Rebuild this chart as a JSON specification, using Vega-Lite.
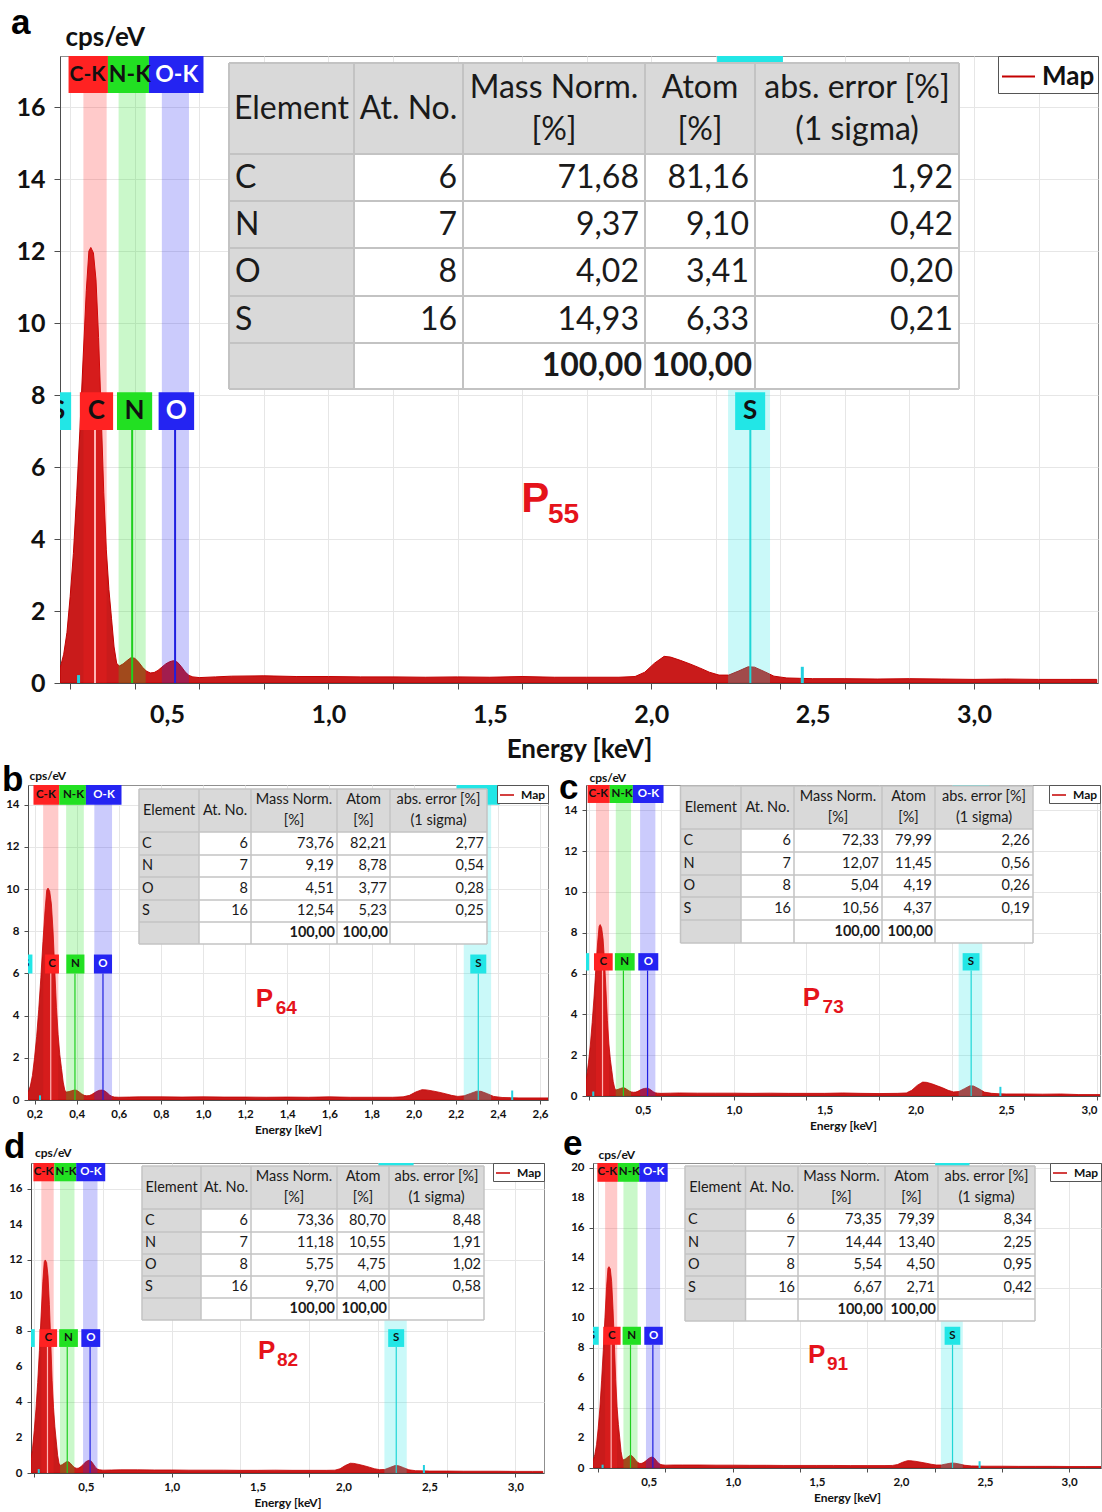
{
"$schema": "https://vega.github.io/schema/vega-lite/v6.json",
"background": "white",
"padding": {"left": 0, "top": 5, "right": 0, "bottom": 0},
"config": {
  "view": {"stroke": "#8f8f8f"},
  "axis": {"labelFont": "Lato", "titleFont": "Lato", "labelFontWeight": "bold", "titleFontWeight": "bold", "labelColor": "#111111", "titleColor": "#111111", "domainColor": "#4d4d4d", "tickColor": "#4d4d4d", "gridColor": "#e6e6e6", "labelOverlap": false, "labelFlush": false, "labelBound": false},
  "axisY": {"titleAngle": 0, "titleAlign": "left", "titleBaseline": "alphabetic"},
  "legend": {"orient": "top-right", "offset": 0, "symbolType": "stroke", "labelFont": "Lato", "labelFontWeight": "bold", "labelColor": "#111111", "strokeColor": "#555555", "fillColor": "white"},
  "title": {"font": "Liberation Sans", "fontWeight": "bold", "color": "#000000", "anchor": "start", "frame": "group", "offset": 0, "baseline": "alphabetic"},
  "text": {"font": "Lato"}
},
"datasets": {
  "sp": [
    {"p":"a","e":0.169,"c":0.42},{"p":"a","e":0.18,"c":0.8},{"p":"a","e":0.19,"c":1.4},{"p":"a","e":0.2,"c":2.4},{"p":"a","e":0.21,"c":3.6},{"p":"a","e":0.22,"c":5.2},{"p":"a","e":0.23,"c":7.0},{"p":"a","e":0.24,"c":9.0},{"p":"a","e":0.25,"c":10.9},{"p":"a","e":0.258,"c":12.0},{"p":"a","e":0.264,"c":12.1},{"p":"a","e":0.272,"c":11.95},{"p":"a","e":0.28,"c":11.2},{"p":"a","e":0.288,"c":9.6},{"p":"a","e":0.296,"c":7.5},{"p":"a","e":0.304,"c":5.3},{"p":"a","e":0.312,"c":3.7},{"p":"a","e":0.32,"c":2.6},{"p":"a","e":0.328,"c":1.8},{"p":"a","e":0.336,"c":1.0},{"p":"a","e":0.344,"c":0.55},
    {"p":"a","e":0.352,"c":0.47},{"p":"a","e":0.364,"c":0.53},{"p":"a","e":0.376,"c":0.62},{"p":"a","e":0.388,"c":0.7},{"p":"a","e":0.4,"c":0.69},{"p":"a","e":0.412,"c":0.58},{"p":"a","e":0.424,"c":0.44},{"p":"a","e":0.436,"c":0.33},{"p":"a","e":0.448,"c":0.28},{"p":"a","e":0.46,"c":0.29},{"p":"a","e":0.472,"c":0.35},{"p":"a","e":0.484,"c":0.44},{"p":"a","e":0.496,"c":0.53},{"p":"a","e":0.508,"c":0.59},{"p":"a","e":0.52,"c":0.62},{"p":"a","e":0.532,"c":0.58},{"p":"a","e":0.544,"c":0.46},{"p":"a","e":0.556,"c":0.31},{"p":"a","e":0.568,"c":0.21},{"p":"a","e":0.58,"c":0.17},{"p":"a","e":0.6,"c":0.15},{"p":"a","e":0.65,"c":0.17},
    {"p":"a","e":0.7,"c":0.19},{"p":"a","e":0.8,"c":0.2},{"p":"a","e":0.9,"c":0.18},{"p":"a","e":1.0,"c":0.18},{"p":"a","e":1.1,"c":0.17},{"p":"a","e":1.2,"c":0.17},{"p":"a","e":1.3,"c":0.16},{"p":"a","e":1.4,"c":0.17},{"p":"a","e":1.5,"c":0.16},{"p":"a","e":1.6,"c":0.18},{"p":"a","e":1.7,"c":0.16},{"p":"a","e":1.8,"c":0.16},{"p":"a","e":1.9,"c":0.16},
    {"p":"a","e":1.95,"c":0.18},{"p":"a","e":1.98,"c":0.3},{"p":"a","e":2.01,"c":0.55},{"p":"a","e":2.04,"c":0.74},{"p":"a","e":2.06,"c":0.72},{"p":"a","e":2.09,"c":0.63},{"p":"a","e":2.12,"c":0.53},{"p":"a","e":2.15,"c":0.42},{"p":"a","e":2.18,"c":0.3},{"p":"a","e":2.21,"c":0.22},{"p":"a","e":2.24,"c":0.22},{"p":"a","e":2.27,"c":0.33},{"p":"a","e":2.3,"c":0.45},{"p":"a","e":2.32,"c":0.44},{"p":"a","e":2.35,"c":0.32},{"p":"a","e":2.38,"c":0.19},{"p":"a","e":2.42,"c":0.14},{"p":"a","e":2.46,"c":0.13},
    {"p":"a","e":2.5,"c":0.12},{"p":"a","e":2.6,"c":0.12},{"p":"a","e":2.7,"c":0.11},{"p":"a","e":2.8,"c":0.12},{"p":"a","e":2.9,"c":0.11},{"p":"a","e":3.0,"c":0.1},{"p":"a","e":3.1,"c":0.11},{"p":"a","e":3.2,"c":0.1},{"p":"a","e":3.3,"c":0.1},{"p":"a","e":3.38,"c":0.1},

    {"p":"b","e":0.169,"c":0.35},{"p":"b","e":0.18,"c":0.66},{"p":"b","e":0.19,"c":1.16},{"p":"b","e":0.2,"c":2.0},{"p":"b","e":0.21,"c":3.0},{"p":"b","e":0.22,"c":4.3},{"p":"b","e":0.23,"c":5.8},{"p":"b","e":0.24,"c":7.5},{"p":"b","e":0.25,"c":9.0},{"p":"b","e":0.258,"c":9.95},{"p":"b","e":0.264,"c":10.05},{"p":"b","e":0.272,"c":9.9},{"p":"b","e":0.28,"c":9.3},{"p":"b","e":0.288,"c":8.0},{"p":"b","e":0.296,"c":6.2},{"p":"b","e":0.304,"c":4.4},{"p":"b","e":0.312,"c":3.1},{"p":"b","e":0.32,"c":2.15},{"p":"b","e":0.328,"c":1.5},{"p":"b","e":0.336,"c":0.85},{"p":"b","e":0.344,"c":0.45},
    {"p":"b","e":0.352,"c":0.38},{"p":"b","e":0.364,"c":0.4},{"p":"b","e":0.376,"c":0.44},{"p":"b","e":0.388,"c":0.47},{"p":"b","e":0.4,"c":0.46},{"p":"b","e":0.412,"c":0.38},{"p":"b","e":0.424,"c":0.29},{"p":"b","e":0.436,"c":0.22},{"p":"b","e":0.448,"c":0.2},{"p":"b","e":0.46,"c":0.21},{"p":"b","e":0.472,"c":0.26},{"p":"b","e":0.484,"c":0.34},{"p":"b","e":0.496,"c":0.41},{"p":"b","e":0.508,"c":0.46},{"p":"b","e":0.52,"c":0.47},{"p":"b","e":0.532,"c":0.44},{"p":"b","e":0.544,"c":0.35},{"p":"b","e":0.556,"c":0.24},{"p":"b","e":0.568,"c":0.17},{"p":"b","e":0.58,"c":0.14},{"p":"b","e":0.6,"c":0.13},{"p":"b","e":0.65,"c":0.14},
    {"p":"b","e":0.7,"c":0.15},{"p":"b","e":0.8,"c":0.15},{"p":"b","e":0.9,"c":0.14},{"p":"b","e":1.0,"c":0.15},{"p":"b","e":1.1,"c":0.14},{"p":"b","e":1.2,"c":0.14},{"p":"b","e":1.3,"c":0.13},{"p":"b","e":1.4,"c":0.14},{"p":"b","e":1.5,"c":0.13},{"p":"b","e":1.6,"c":0.15},{"p":"b","e":1.7,"c":0.13},{"p":"b","e":1.8,"c":0.13},{"p":"b","e":1.9,"c":0.13},
    {"p":"b","e":1.95,"c":0.15},{"p":"b","e":1.98,"c":0.22},{"p":"b","e":2.01,"c":0.38},{"p":"b","e":2.04,"c":0.49},{"p":"b","e":2.06,"c":0.48},{"p":"b","e":2.09,"c":0.43},{"p":"b","e":2.12,"c":0.37},{"p":"b","e":2.15,"c":0.3},{"p":"b","e":2.18,"c":0.22},{"p":"b","e":2.21,"c":0.17},{"p":"b","e":2.24,"c":0.2},{"p":"b","e":2.27,"c":0.31},{"p":"b","e":2.3,"c":0.42},{"p":"b","e":2.32,"c":0.41},{"p":"b","e":2.35,"c":0.3},{"p":"b","e":2.38,"c":0.17},{"p":"b","e":2.42,"c":0.12},{"p":"b","e":2.46,"c":0.11},
    {"p":"b","e":2.5,"c":0.1},{"p":"b","e":2.6,"c":0.1},{"p":"b","e":2.638,"c":0.1},

    {"p":"c","e":0.186,"c":0.8},{"p":"c","e":0.19,"c":0.97},{"p":"c","e":0.2,"c":1.66},{"p":"c","e":0.21,"c":2.5},{"p":"c","e":0.22,"c":3.6},{"p":"c","e":0.23,"c":4.8},{"p":"c","e":0.24,"c":6.2},{"p":"c","e":0.25,"c":7.5},{"p":"c","e":0.258,"c":8.3},{"p":"c","e":0.264,"c":8.4},{"p":"c","e":0.272,"c":8.25},{"p":"c","e":0.28,"c":7.7},{"p":"c","e":0.288,"c":6.6},{"p":"c","e":0.296,"c":5.2},{"p":"c","e":0.304,"c":3.7},{"p":"c","e":0.312,"c":2.55},{"p":"c","e":0.32,"c":1.8},{"p":"c","e":0.328,"c":1.25},{"p":"c","e":0.336,"c":0.7},{"p":"c","e":0.344,"c":0.38},
    {"p":"c","e":0.352,"c":0.3},{"p":"c","e":0.364,"c":0.33},{"p":"c","e":0.376,"c":0.37},{"p":"c","e":0.388,"c":0.4},{"p":"c","e":0.4,"c":0.39},{"p":"c","e":0.412,"c":0.32},{"p":"c","e":0.424,"c":0.25},{"p":"c","e":0.436,"c":0.2},{"p":"c","e":0.448,"c":0.18},{"p":"c","e":0.46,"c":0.19},{"p":"c","e":0.472,"c":0.23},{"p":"c","e":0.484,"c":0.29},{"p":"c","e":0.496,"c":0.34},{"p":"c","e":0.508,"c":0.37},{"p":"c","e":0.52,"c":0.38},{"p":"c","e":0.532,"c":0.36},{"p":"c","e":0.544,"c":0.29},{"p":"c","e":0.556,"c":0.21},{"p":"c","e":0.568,"c":0.16},{"p":"c","e":0.58,"c":0.14},{"p":"c","e":0.6,"c":0.13},{"p":"c","e":0.65,"c":0.14},
    {"p":"c","e":0.7,"c":0.15},{"p":"c","e":0.8,"c":0.14},{"p":"c","e":0.9,"c":0.14},{"p":"c","e":1.0,"c":0.14},{"p":"c","e":1.1,"c":0.13},{"p":"c","e":1.2,"c":0.14},{"p":"c","e":1.3,"c":0.13},{"p":"c","e":1.4,"c":0.13},{"p":"c","e":1.5,"c":0.13},{"p":"c","e":1.6,"c":0.15},{"p":"c","e":1.7,"c":0.13},{"p":"c","e":1.8,"c":0.12},{"p":"c","e":1.9,"c":0.13},
    {"p":"c","e":1.95,"c":0.15},{"p":"c","e":1.98,"c":0.28},{"p":"c","e":2.01,"c":0.52},{"p":"c","e":2.04,"c":0.68},{"p":"c","e":2.06,"c":0.67},{"p":"c","e":2.09,"c":0.6},{"p":"c","e":2.12,"c":0.5},{"p":"c","e":2.15,"c":0.4},{"p":"c","e":2.18,"c":0.28},{"p":"c","e":2.21,"c":0.2},{"p":"c","e":2.24,"c":0.22},{"p":"c","e":2.27,"c":0.36},{"p":"c","e":2.3,"c":0.5},{"p":"c","e":2.32,"c":0.49},{"p":"c","e":2.35,"c":0.35},{"p":"c","e":2.38,"c":0.19},{"p":"c","e":2.42,"c":0.13},{"p":"c","e":2.46,"c":0.11},
    {"p":"c","e":2.5,"c":0.1},{"p":"c","e":2.6,"c":0.1},{"p":"c","e":2.7,"c":0.09},{"p":"c","e":2.8,"c":0.1},{"p":"c","e":2.9,"c":0.07},{"p":"c","e":3.0,"c":0.07},{"p":"c","e":3.016,"c":0.07},

    {"p":"d","e":0.181,"c":0.82},{"p":"d","e":0.19,"c":1.4},{"p":"d","e":0.2,"c":2.4},{"p":"d","e":0.21,"c":3.6},{"p":"d","e":0.22,"c":5.1},{"p":"d","e":0.23,"c":6.9},{"p":"d","e":0.24,"c":8.9},{"p":"d","e":0.25,"c":10.8},{"p":"d","e":0.258,"c":11.9},{"p":"d","e":0.264,"c":12.0},{"p":"d","e":0.272,"c":11.85},{"p":"d","e":0.28,"c":11.1},{"p":"d","e":0.288,"c":9.5},{"p":"d","e":0.296,"c":7.4},{"p":"d","e":0.304,"c":5.2},{"p":"d","e":0.312,"c":3.7},{"p":"d","e":0.32,"c":2.6},{"p":"d","e":0.328,"c":1.8},{"p":"d","e":0.336,"c":1.0},{"p":"d","e":0.344,"c":0.55},
    {"p":"d","e":0.352,"c":0.42},{"p":"d","e":0.364,"c":0.48},{"p":"d","e":0.376,"c":0.56},{"p":"d","e":0.388,"c":0.64},{"p":"d","e":0.4,"c":0.63},{"p":"d","e":0.412,"c":0.53},{"p":"d","e":0.424,"c":0.4},{"p":"d","e":0.436,"c":0.3},{"p":"d","e":0.448,"c":0.26},{"p":"d","e":0.46,"c":0.28},{"p":"d","e":0.472,"c":0.36},{"p":"d","e":0.484,"c":0.47},{"p":"d","e":0.496,"c":0.6},{"p":"d","e":0.508,"c":0.68},{"p":"d","e":0.52,"c":0.72},{"p":"d","e":0.532,"c":0.66},{"p":"d","e":0.544,"c":0.5},{"p":"d","e":0.556,"c":0.33},{"p":"d","e":0.568,"c":0.22},{"p":"d","e":0.58,"c":0.18},{"p":"d","e":0.6,"c":0.16},{"p":"d","e":0.65,"c":0.17},
    {"p":"d","e":0.7,"c":0.18},{"p":"d","e":0.8,"c":0.18},{"p":"d","e":0.9,"c":0.17},{"p":"d","e":1.0,"c":0.17},{"p":"d","e":1.1,"c":0.16},{"p":"d","e":1.2,"c":0.16},{"p":"d","e":1.3,"c":0.16},{"p":"d","e":1.4,"c":0.15},{"p":"d","e":1.5,"c":0.15},{"p":"d","e":1.6,"c":0.16},{"p":"d","e":1.7,"c":0.15},{"p":"d","e":1.8,"c":0.15},{"p":"d","e":1.9,"c":0.15},
    {"p":"d","e":1.95,"c":0.16},{"p":"d","e":1.98,"c":0.24},{"p":"d","e":2.01,"c":0.42},{"p":"d","e":2.04,"c":0.55},{"p":"d","e":2.06,"c":0.54},{"p":"d","e":2.09,"c":0.48},{"p":"d","e":2.12,"c":0.41},{"p":"d","e":2.15,"c":0.33},{"p":"d","e":2.18,"c":0.24},{"p":"d","e":2.21,"c":0.19},{"p":"d","e":2.24,"c":0.2},{"p":"d","e":2.27,"c":0.31},{"p":"d","e":2.3,"c":0.42},{"p":"d","e":2.32,"c":0.41},{"p":"d","e":2.35,"c":0.3},{"p":"d","e":2.38,"c":0.18},{"p":"d","e":2.42,"c":0.13},{"p":"d","e":2.46,"c":0.12},
    {"p":"d","e":2.5,"c":0.11},{"p":"d","e":2.6,"c":0.11},{"p":"d","e":2.7,"c":0.1},{"p":"d","e":2.8,"c":0.1},{"p":"d","e":2.9,"c":0.1},{"p":"d","e":3.0,"c":0.09},{"p":"d","e":3.1,"c":0.09},{"p":"d","e":3.16,"c":0.09},

    {"p":"e","e":0.169,"c":0.47},{"p":"e","e":0.18,"c":0.9},{"p":"e","e":0.19,"c":1.55},{"p":"e","e":0.2,"c":2.65},{"p":"e","e":0.21,"c":4.0},{"p":"e","e":0.22,"c":5.8},{"p":"e","e":0.23,"c":7.8},{"p":"e","e":0.24,"c":10.0},{"p":"e","e":0.25,"c":12.1},{"p":"e","e":0.258,"c":13.3},{"p":"e","e":0.264,"c":13.4},{"p":"e","e":0.272,"c":13.25},{"p":"e","e":0.28,"c":12.4},{"p":"e","e":0.288,"c":10.6},{"p":"e","e":0.296,"c":8.3},{"p":"e","e":0.304,"c":5.9},{"p":"e","e":0.312,"c":4.1},{"p":"e","e":0.32,"c":2.9},{"p":"e","e":0.328,"c":2.0},{"p":"e","e":0.336,"c":1.1},{"p":"e","e":0.344,"c":0.6},
    {"p":"e","e":0.352,"c":0.55},{"p":"e","e":0.364,"c":0.62},{"p":"e","e":0.376,"c":0.73},{"p":"e","e":0.388,"c":0.83},{"p":"e","e":0.4,"c":0.82},{"p":"e","e":0.412,"c":0.68},{"p":"e","e":0.424,"c":0.5},{"p":"e","e":0.436,"c":0.36},{"p":"e","e":0.448,"c":0.3},{"p":"e","e":0.46,"c":0.31},{"p":"e","e":0.472,"c":0.38},{"p":"e","e":0.484,"c":0.48},{"p":"e","e":0.496,"c":0.6},{"p":"e","e":0.508,"c":0.69},{"p":"e","e":0.52,"c":0.73},{"p":"e","e":0.532,"c":0.68},{"p":"e","e":0.544,"c":0.52},{"p":"e","e":0.556,"c":0.35},{"p":"e","e":0.568,"c":0.25},{"p":"e","e":0.58,"c":0.21},{"p":"e","e":0.6,"c":0.19},{"p":"e","e":0.65,"c":0.2},
    {"p":"e","e":0.7,"c":0.2},{"p":"e","e":0.8,"c":0.2},{"p":"e","e":0.9,"c":0.19},{"p":"e","e":1.0,"c":0.19},{"p":"e","e":1.1,"c":0.18},{"p":"e","e":1.2,"c":0.18},{"p":"e","e":1.3,"c":0.17},{"p":"e","e":1.4,"c":0.17},{"p":"e","e":1.5,"c":0.17},{"p":"e","e":1.6,"c":0.17},{"p":"e","e":1.7,"c":0.16},{"p":"e","e":1.8,"c":0.16},{"p":"e","e":1.9,"c":0.16},
    {"p":"e","e":1.95,"c":0.17},{"p":"e","e":1.98,"c":0.23},{"p":"e","e":2.01,"c":0.38},{"p":"e","e":2.04,"c":0.49},{"p":"e","e":2.06,"c":0.48},{"p":"e","e":2.09,"c":0.44},{"p":"e","e":2.12,"c":0.38},{"p":"e","e":2.15,"c":0.32},{"p":"e","e":2.18,"c":0.25},{"p":"e","e":2.21,"c":0.2},{"p":"e","e":2.24,"c":0.2},{"p":"e","e":2.27,"c":0.27},{"p":"e","e":2.3,"c":0.33},{"p":"e","e":2.32,"c":0.32},{"p":"e","e":2.35,"c":0.26},{"p":"e","e":2.38,"c":0.18},{"p":"e","e":2.42,"c":0.14},{"p":"e","e":2.46,"c":0.13},
    {"p":"e","e":2.5,"c":0.12},{"p":"e","e":2.6,"c":0.12},{"p":"e","e":2.7,"c":0.11},{"p":"e","e":2.8,"c":0.11},{"p":"e","e":2.9,"c":0.11},{"p":"e","e":3.0,"c":0.1},{"p":"e","e":3.1,"c":0.1},{"p":"e","e":3.19,"c":0.1}
  ],
  "el": [
    {"el":"C","lo":0.241,"hi":0.313,"ln":0.277,"klo":0.195,"khi":0.317,"kc":0.254,"k":"C-K"},
    {"el":"N","lo":0.35,"hi":0.434,"ln":0.392,"klo":0.317,"khi":0.444,"kc":0.385,"k":"N-K"},
    {"el":"O","lo":0.484,"hi":0.568,"ln":0.525,"klo":0.444,"khi":0.613,"kc":0.53,"k":"O-K"},
    {"el":"S","lo":2.238,"hi":2.368,"ln":2.307,"klo":2.204,"khi":2.408,"kc":2.306,"k":"S-K"}
  ],
  "lbl": [
    {"g":"L","el":"S","blo":0.12,"bhi":0.203,"ln":0.163},
    {"g":"L","el":"C","blo":0.23,"bhi":0.333,"ln":0.281},
    {"g":"L","el":"N","blo":0.345,"bhi":0.454,"ln":0.399},
    {"g":"L","el":"O","blo":0.474,"bhi":0.584,"ln":0.529},
    {"g":"L","el":"S","blo":2.26,"bhi":2.353,"ln":2.306},
    {"g":"B","el":"S","blo":0.13,"bhi":0.19,"ln":0.16},
    {"g":"B","el":"C","blo":0.25,"bhi":0.316,"ln":0.283},
    {"g":"B","el":"N","blo":0.351,"bhi":0.437,"ln":0.394},
    {"g":"B","el":"O","blo":0.482,"bhi":0.568,"ln":0.525},
    {"g":"B","el":"S","blo":2.269,"bhi":2.345,"ln":2.307}
  ],
  "sum": [{"e":0.226,"h":0.22,"z":0},{"e":2.468,"h":0.45,"z":0}],
  "pl": [{"p":"a","n":"55"},{"p":"b","n":"64"},{"p":"c","n":"73"},{"p":"d","n":"82"},{"p":"e","n":"91"}],
  "th1": [{"t":"Element","cm":0.5},{"t":"At. No.","cm":1.5}],
  "th2": [{"t":["Mass Norm.","[%]"],"cm":2.5},{"t":["Atom","[%]"],"cm":3.5},{"t":["abs. error [%]","(1 sigma)"],"cm":4.5}],
  "tz": [{"el":"C","z":"6","r":1.5},{"el":"N","z":"7","r":2.5},{"el":"O","z":"8","r":3.5},{"el":"S","z":"16","r":4.5}],
  "tt": [{"c":3,"t":"100,00"},{"c":4,"t":"100,00"}],
  "tc": [{"k":0},{"k":1},{"k":2},{"k":3},{"k":4},{"k":5}],
  "tr": [{"k":0},{"k":1},{"k":2},{"k":3},{"k":4},{"k":5},{"k":6}],
  "tn": [
    {"p":"a","r":1.5,"c":3,"t":"71,68"},{"p":"a","r":1.5,"c":4,"t":"81,16"},{"p":"a","r":1.5,"c":5,"t":"1,92"},
    {"p":"a","r":2.5,"c":3,"t":"9,37"},{"p":"a","r":2.5,"c":4,"t":"9,10"},{"p":"a","r":2.5,"c":5,"t":"0,42"},
    {"p":"a","r":3.5,"c":3,"t":"4,02"},{"p":"a","r":3.5,"c":4,"t":"3,41"},{"p":"a","r":3.5,"c":5,"t":"0,20"},
    {"p":"a","r":4.5,"c":3,"t":"14,93"},{"p":"a","r":4.5,"c":4,"t":"6,33"},{"p":"a","r":4.5,"c":5,"t":"0,21"},
    {"p":"b","r":1.5,"c":3,"t":"73,76"},{"p":"b","r":1.5,"c":4,"t":"82,21"},{"p":"b","r":1.5,"c":5,"t":"2,77"},
    {"p":"b","r":2.5,"c":3,"t":"9,19"},{"p":"b","r":2.5,"c":4,"t":"8,78"},{"p":"b","r":2.5,"c":5,"t":"0,54"},
    {"p":"b","r":3.5,"c":3,"t":"4,51"},{"p":"b","r":3.5,"c":4,"t":"3,77"},{"p":"b","r":3.5,"c":5,"t":"0,28"},
    {"p":"b","r":4.5,"c":3,"t":"12,54"},{"p":"b","r":4.5,"c":4,"t":"5,23"},{"p":"b","r":4.5,"c":5,"t":"0,25"},
    {"p":"c","r":1.5,"c":3,"t":"72,33"},{"p":"c","r":1.5,"c":4,"t":"79,99"},{"p":"c","r":1.5,"c":5,"t":"2,26"},
    {"p":"c","r":2.5,"c":3,"t":"12,07"},{"p":"c","r":2.5,"c":4,"t":"11,45"},{"p":"c","r":2.5,"c":5,"t":"0,56"},
    {"p":"c","r":3.5,"c":3,"t":"5,04"},{"p":"c","r":3.5,"c":4,"t":"4,19"},{"p":"c","r":3.5,"c":5,"t":"0,26"},
    {"p":"c","r":4.5,"c":3,"t":"10,56"},{"p":"c","r":4.5,"c":4,"t":"4,37"},{"p":"c","r":4.5,"c":5,"t":"0,19"},
    {"p":"d","r":1.5,"c":3,"t":"73,36"},{"p":"d","r":1.5,"c":4,"t":"80,70"},{"p":"d","r":1.5,"c":5,"t":"8,48"},
    {"p":"d","r":2.5,"c":3,"t":"11,18"},{"p":"d","r":2.5,"c":4,"t":"10,55"},{"p":"d","r":2.5,"c":5,"t":"1,91"},
    {"p":"d","r":3.5,"c":3,"t":"5,75"},{"p":"d","r":3.5,"c":4,"t":"4,75"},{"p":"d","r":3.5,"c":5,"t":"1,02"},
    {"p":"d","r":4.5,"c":3,"t":"9,70"},{"p":"d","r":4.5,"c":4,"t":"4,00"},{"p":"d","r":4.5,"c":5,"t":"0,58"},
    {"p":"e","r":1.5,"c":3,"t":"73,35"},{"p":"e","r":1.5,"c":4,"t":"79,39"},{"p":"e","r":1.5,"c":5,"t":"8,34"},
    {"p":"e","r":2.5,"c":3,"t":"14,44"},{"p":"e","r":2.5,"c":4,"t":"13,40"},{"p":"e","r":2.5,"c":5,"t":"2,25"},
    {"p":"e","r":3.5,"c":3,"t":"5,54"},{"p":"e","r":3.5,"c":4,"t":"4,50"},{"p":"e","r":3.5,"c":5,"t":"0,95"},
    {"p":"e","r":4.5,"c":3,"t":"6,67"},{"p":"e","r":4.5,"c":4,"t":"2,71"},{"p":"e","r":4.5,"c":5,"t":"0,42"}
  ]
},
"resolve": {"scale": {"stroke": "independent"}, "legend": {"stroke": "independent"}},
"spacing": -1,
"vconcat": [
 {"hconcat": [
   {"width": 10, "height": 1, "view": {"stroke": null}, "data": {"values": [{}]}, "mark": {"type": "point", "size": 0, "opacity": 0}, "encoding": {}},
   {"width": 1038, "height": 627,
    "title": {"text": "a", "fontSize": 35, "dx": -49, "dy": 21},
    "resolve": {"scale": {"x": "independent", "y": "independent"}},
    "layer": [
     {"resolve": {"axis": {"x": "independent", "y": "independent"}},
      "layer": [
      {"layer": [
      {"data": {"name": "sp"}, "transform": [{"filter": "datum.p === 'a'"}],
       "mark": {"type": "area", "fill": "#c91b1b", "strokeWidth": 1, "clip": true},
       "encoding": {
        "x": {"field": "e", "type": "quantitative", "scale": {"domain": [0.1685, 3.384], "zero": false, "nice": false},
              "axis": {"orient": "bottom", "title": null, "labels": false, "values": [0.2,0.3,0.4,0.5,0.6,0.7,0.8,0.9,1,1.1,1.2,1.3,1.4,1.5,1.6,1.7,1.8,1.9,2,2.1,2.2,2.3,2.4,2.5,2.6,2.7,2.8,2.9,3,3.1,3.2,3.3], "tickSize": 6}},
        "y": {"field": "c", "type": "quantitative", "scale": {"domain": [0, 17.42], "zero": false, "nice": false},
              "axis": {"orient": "left", "title": null, "labels": false, "values": [0,0.5,1,1.5,2,2.5,3,3.5,4,4.5,5,5.5,6,6.5,7,7.5,8,8.5,9,9.5,10,10.5,11,11.5,12,12.5,13,13.5,14,14.5,15,15.5,16,16.5,17], "tickSize": 6}},
        "stroke": {"datum": "Map", "scale": {"range": ["#c40000"]}, "legend": {"title": null, "symbolType": "stroke", "labelFontSize": 26, "symbolSize": 1089, "symbolStrokeWidth": 2, "padding": 3, "labelOffset": 6}}
       }},
      {"data": {"name": "el"}, "mark": {"type": "rect", "fillOpacity": 0.24, "clip": true},
       "encoding": {"x": {"field": "lo", "type": "quantitative"}, "x2": {"field": "hi"}, "y": {"datum": 0, "type": "quantitative"}, "y2": {"datum": 17.42},
        "fill": {"field": "el", "type": "nominal", "scale": {"domain": ["C","N","O","S"], "range": ["#ff2222","#22e022","#2424f2","#22e6e6"]}, "legend": null}}},
      {"data": {"name": "el"}, "transform": [{"filter": "datum.el === 'C'"}], "mark": {"type": "rect", "clip": true},
       "encoding": {"x": {"field": "klo", "type": "quantitative"}, "x2": {"field": "khi"}, "y": {"datum": 16.39, "type": "quantitative"}, "y2": {"datum": 17.42}, "fill": {"field": "el", "type": "nominal", "legend": null}}},
      {"data": {"name": "el"}, "transform": [{"filter": "datum.el === 'C'"}], "mark": {"type": "text", "fontSize": 21, "fontWeight": "bold", "baseline": "middle", "clip": true},
       "encoding": {"x": {"field": "kc", "type": "quantitative"}, "y": {"datum": 16.9, "type": "quantitative"}, "text": {"field": "k", "type": "nominal"}, "color": {"value": "#111111"}}},
      {"data": {"name": "el"}, "transform": [{"filter": "datum.el !== 'C'"}], "mark": {"type": "rect", "clip": true},
       "encoding": {"x": {"field": "klo", "type": "quantitative"}, "x2": {"field": "khi"}, "y": {"datum": 16.39, "type": "quantitative"}, "y2": {"datum": 17.42}, "fill": {"field": "el", "type": "nominal", "legend": null}}},
      {"data": {"name": "el"}, "transform": [{"filter": "datum.el === 'N' || datum.el === 'O'"}], "mark": {"type": "text", "fontSize": 23, "fontWeight": "bold", "baseline": "middle", "clip": true},
       "encoding": {"x": {"field": "kc", "type": "quantitative"}, "y": {"datum": 16.9, "type": "quantitative"}, "text": {"field": "k", "type": "nominal"}, "color": {"condition": {"test": "datum.el === 'O'", "value": "white"}, "value": "#111111"}}},
      {"data": {"name": "lbl"}, "transform": [{"filter": "datum.g === 'L'"}], "mark": {"type": "rect", "clip": true},
       "encoding": {"x": {"field": "blo", "type": "quantitative"}, "x2": {"field": "bhi"}, "y": {"datum": 7.03, "type": "quantitative"}, "y2": {"datum": 8.08}, "fill": {"field": "el", "type": "nominal", "legend": null}}},
      {"data": {"name": "lbl"}, "transform": [{"filter": "datum.g === 'L'"}], "mark": {"type": "text", "fontSize": 26, "fontWeight": "bold", "baseline": "middle", "clip": true},
       "encoding": {"x": {"field": "ln", "type": "quantitative"}, "y": {"datum": 7.55, "type": "quantitative"}, "text": {"field": "el", "type": "nominal"}, "color": {"condition": {"test": "datum.el === 'O'", "value": "white"}, "value": "#111111"}}},
      {"data": {"name": "el"}, "mark": {"type": "rule", "strokeWidth": 2},
       "encoding": {"x": {"field": "ln", "type": "quantitative"}, "y": {"datum": 0, "type": "quantitative"}, "y2": {"datum": 7.03},
        "color": {"field": "el", "type": "nominal", "scale": {"domain": ["C","N","O","S"], "range": ["#ffb4b4","#1fcf1f","#1f1fe0","#1fd6d6"]}, "legend": null}}},
      {"data": {"name": "sum"}, "mark": {"type": "rule", "strokeWidth": 3, "color": "#22d0e0"},
       "encoding": {"x": {"field": "e", "type": "quantitative"}, "y": {"field": "z", "type": "quantitative"}, "y2": {"field": "h"}}},
      {"data": {"name": "pl"}, "transform": [{"filter": "datum.p === 'a'"}], "mark": {"type": "text", "text": "P", "font": "Liberation Sans", "fontWeight": "bold", "fontSize": 42, "color": "#e5131b", "align": "left", "baseline": "alphabetic"},
       "encoding": {"x": {"datum": 1.597, "type": "quantitative"}, "y": {"datum": 4.75, "type": "quantitative"}}},
      {"data": {"name": "pl"}, "transform": [{"filter": "datum.p === 'a'"}], "mark": {"type": "text", "font": "Liberation Sans", "fontWeight": "bold", "fontSize": 28, "color": "#e5131b", "align": "left", "baseline": "alphabetic"},
       "encoding": {"x": {"datum": 1.68, "type": "quantitative"}, "y": {"datum": 4.44, "type": "quantitative"}, "text": {"field": "n", "type": "nominal"}}}
      ]},
      {"data": {"name": "pl"}, "transform": [{"filter": "datum.p === 'a'"}], "mark": {"type": "point", "size": 0, "opacity": 0},
       "encoding": {
        "x": {"datum": 1, "type": "quantitative", "axis": {"orient": "bottom", "title": "Energy [keV]", "values": [0.5,1,1.5,2,2.5,3], "labelExpr": "replace(format(datum.value,'.1f'),'.',',')", "ticks": false, "tickSize": 0, "domain": false, "grid": false, "labelFontSize": 25, "labelPadding": 19, "titleFontSize": 26, "titlePadding": 9}},
        "y": {"datum": 1, "type": "quantitative", "axis": {"orient": "left", "title": "cps/eV", "values": [0,2,4,6,8,10,12,14,16], "format": "d", "ticks": false, "tickSize": 0, "domain": false, "grid": false, "labelFontSize": 25, "labelPadding": 15, "titleFontSize": 26, "titleX": 5, "titleY": -11}}
       }}
     ]},
     {"layer": [
      {"data": {"values": [{}]}, "mark": {"type": "rect", "fill": "white"},
       "encoding": {"x": {"datum": 0, "type": "quantitative", "scale": {"domain": [0,1,2,3,4,5], "range": [169,294,403,585,695,899], "zero": false, "nice": false}, "axis": null}, "x2": {"datum": 5},
        "y": {"datum": 0, "type": "quantitative", "scale": {"domain": [0,1,2,3,4,5,6], "range": [7,98,145,192,240,287,333], "zero": false, "nice": false}, "axis": null}, "y2": {"datum": 6}}},
      {"data": {"values": [{}]}, "mark": {"type": "rect", "fill": "#d9d9d9"},
       "encoding": {"x": {"datum": 0, "type": "quantitative", "axis": null}, "x2": {"datum": 5}, "y": {"datum": 0, "type": "quantitative", "axis": null}, "y2": {"datum": 1}}},
      {"data": {"values": [{}]}, "mark": {"type": "rect", "fill": "#d9d9d9"},
       "encoding": {"x": {"datum": 0, "type": "quantitative", "axis": null}, "x2": {"datum": 1}, "y": {"datum": 1, "type": "quantitative", "axis": null}, "y2": {"datum": 6}}},
      {"data": {"name": "tc"}, "mark": {"type": "rule", "color": "#c3c3c3", "strokeWidth": 2},
       "encoding": {"x": {"field": "k", "type": "quantitative", "axis": null}, "y": {"datum": 0, "type": "quantitative", "axis": null}, "y2": {"datum": 6}}},
      {"data": {"name": "tr"}, "mark": {"type": "rule", "color": "#c3c3c3", "strokeWidth": 2},
       "encoding": {"y": {"field": "k", "type": "quantitative", "axis": null}, "x": {"datum": 0, "type": "quantitative", "axis": null}, "x2": {"datum": 5}}},
      {"data": {"name": "th1"}, "mark": {"type": "text", "fontSize": 32, "align": "center", "baseline": "middle", "color": "#1a1a1a"},
       "encoding": {"x": {"field": "cm", "type": "quantitative", "axis": null}, "y": {"datum": 0.5, "type": "quantitative", "axis": null}, "text": {"field": "t", "type": "nominal"}}},
      {"data": {"name": "th2"}, "mark": {"type": "text", "fontSize": 32, "lineHeight": 42, "align": "center", "baseline": "middle", "dy": -21, "color": "#1a1a1a"},
       "encoding": {"x": {"field": "cm", "type": "quantitative", "axis": null}, "y": {"datum": 0.5, "type": "quantitative", "axis": null}, "text": {"field": "t", "type": "nominal"}}},
      {"data": {"name": "tz"}, "mark": {"type": "text", "fontSize": 32, "align": "left", "baseline": "middle", "dx": 6, "color": "#1a1a1a"},
       "encoding": {"x": {"datum": 0, "type": "quantitative", "axis": null}, "y": {"field": "r", "type": "quantitative", "axis": null}, "text": {"field": "el", "type": "nominal"}}},
      {"data": {"name": "tz"}, "mark": {"type": "text", "fontSize": 32, "align": "right", "baseline": "middle", "dx": -6, "color": "#1a1a1a"},
       "encoding": {"x": {"datum": 2, "type": "quantitative", "axis": null}, "y": {"field": "r", "type": "quantitative", "axis": null}, "text": {"field": "z", "type": "nominal"}}},
      {"data": {"name": "tn"}, "transform": [{"filter": "datum.p === 'a'"}], "mark": {"type": "text", "fontSize": 32, "align": "right", "baseline": "middle", "dx": -6, "color": "#1a1a1a"},
       "encoding": {"x": {"field": "c", "type": "quantitative", "axis": null}, "y": {"field": "r", "type": "quantitative", "axis": null}, "text": {"field": "t", "type": "nominal"}}},
      {"data": {"name": "tt"}, "mark": {"type": "text", "fontSize": 32, "fontWeight": "bold", "align": "right", "baseline": "middle", "dx": -3, "color": "#1a1a1a"},
       "encoding": {"x": {"field": "c", "type": "quantitative", "axis": null}, "y": {"datum": 5.5, "type": "quantitative", "axis": null}, "text": {"field": "t", "type": "nominal"}}}
     ]}
    ]}
  ], "spacing": 0, "resolve": {"scale": {"stroke": "independent"}, "legend": {"stroke": "independent"}}},
 {"vconcat": [
   {"hconcat": [
     {"width": 1, "height": 1, "view": {"stroke": null}, "data": {"values": [{}]}, "mark": {"type": "point", "size": 0, "opacity": 0}, "encoding": {}},
     {"hconcat": [
       {"width": 520, "height": 315,
        "title": {"text": "b", "fontSize": 35, "dx": -26, "dy": 32},
        "resolve": {"scale": {"x": "independent", "y": "independent"}},
        "layer": [
         {"resolve": {"axis": {"x": "independent", "y": "independent"}},
          "layer": [
          {"layer": [
          {"data": {"name": "sp"}, "transform": [{"filter": "datum.p === 'b'"}],
           "mark": {"type": "area", "fill": "#c91b1b", "strokeWidth": 0.8, "clip": true},
           "encoding": {
            "x": {"field": "e", "type": "quantitative", "scale": {"domain": [0.169, 2.638], "zero": false, "nice": false},
                  "axis": {"orient": "bottom", "title": null, "labels": false, "values": [0.2,0.3,0.4,0.5,0.6,0.7,0.8,0.9,1,1.1,1.2,1.3,1.4,1.5,1.6,1.7,1.8,1.9,2,2.1,2.2,2.3,2.4,2.5,2.6], "tickSize": 4}},
            "y": {"field": "c", "type": "quantitative", "scale": {"domain": [0, 14.94], "zero": false, "nice": false},
                  "axis": {"orient": "left", "title": null, "labels": false, "values": [0,0.5,1,1.5,2,2.5,3,3.5,4,4.5,5,5.5,6,6.5,7,7.5,8,8.5,9,9.5,10,10.5,11,11.5,12,12.5,13,13.5,14,14.5], "tickSize": 4}},
            "stroke": {"datum": "Map", "scale": {"range": ["#c40000"]}, "legend": {"title": null, "symbolType": "stroke", "labelFontSize": 12, "symbolSize": 196, "symbolStrokeWidth": 1.5, "padding": 2, "labelOffset": 6}}
           }},
          {"data": {"name": "el"}, "mark": {"type": "rect", "fillOpacity": 0.24, "clip": true},
           "encoding": {"x": {"field": "lo", "type": "quantitative"}, "x2": {"field": "hi"}, "y": {"datum": 0, "type": "quantitative"}, "y2": {"datum": 14.94}, "fill": {"field": "el", "type": "nominal", "scale": {"domain": ["C","N","O","S"], "range": ["#ff2222","#22e022","#2424f2","#22e6e6"]}, "legend": null}}},
          {"data": {"name": "el"}, "transform": [{"filter": "datum.el === 'C'"}], "mark": {"type": "rect", "clip": true},
           "encoding": {"x": {"field": "klo", "type": "quantitative"}, "x2": {"field": "khi"}, "y": {"datum": 14.0, "type": "quantitative"}, "y2": {"datum": 14.94}, "fill": {"field": "el", "type": "nominal", "legend": null}}},
          {"data": {"name": "el"}, "transform": [{"filter": "datum.el === 'C'"}], "mark": {"type": "text", "fontSize": 11.5, "fontWeight": "bold", "baseline": "middle", "clip": true},
           "encoding": {"x": {"field": "kc", "type": "quantitative"}, "y": {"datum": 14.47, "type": "quantitative"}, "text": {"field": "k", "type": "nominal"}, "color": {"value": "#111111"}}},
          {"data": {"name": "el"}, "transform": [{"filter": "datum.el !== 'C'"}], "mark": {"type": "rect", "clip": true},
           "encoding": {"x": {"field": "klo", "type": "quantitative"}, "x2": {"field": "khi"}, "y": {"datum": 14.0, "type": "quantitative"}, "y2": {"datum": 14.94}, "fill": {"field": "el", "type": "nominal", "legend": null}}},
          {"data": {"name": "el"}, "transform": [{"filter": "datum.el === 'N' || datum.el === 'O'"}], "mark": {"type": "text", "fontSize": 11.5, "fontWeight": "bold", "baseline": "middle", "clip": true},
           "encoding": {"x": {"field": "kc", "type": "quantitative"}, "y": {"datum": 14.47, "type": "quantitative"}, "text": {"field": "k", "type": "nominal"}, "color": {"condition": {"test": "datum.el === 'O'", "value": "white"}, "value": "#111111"}}},
          {"data": {"name": "lbl"}, "transform": [{"filter": "datum.g === 'B'"}], "mark": {"type": "rect", "clip": true},
           "encoding": {"x": {"field": "blo", "type": "quantitative"}, "x2": {"field": "bhi"}, "y": {"datum": 6.0, "type": "quantitative"}, "y2": {"datum": 6.9}, "fill": {"field": "el", "type": "nominal", "legend": null}}},
          {"data": {"name": "lbl"}, "transform": [{"filter": "datum.g === 'B'"}], "mark": {"type": "text", "fontSize": 11.5, "fontWeight": "bold", "baseline": "middle", "clip": true},
           "encoding": {"x": {"field": "ln", "type": "quantitative"}, "y": {"datum": 6.45, "type": "quantitative"}, "text": {"field": "el", "type": "nominal"}, "color": {"condition": {"test": "datum.el === 'O'", "value": "white"}, "value": "#111111"}}},
          {"data": {"name": "el"}, "mark": {"type": "rule", "strokeWidth": 1.2},
           "encoding": {"x": {"field": "ln", "type": "quantitative"}, "y": {"datum": 0, "type": "quantitative"}, "y2": {"datum": 6.0}, "color": {"field": "el", "type": "nominal", "scale": {"domain": ["C","N","O","S"], "range": ["#ffb4b4","#1fcf1f","#1f1fe0","#1fd6d6"]}, "legend": null}}},
          {"data": {"name": "sum"}, "mark": {"type": "rule", "strokeWidth": 2, "color": "#22d0e0"},
           "encoding": {"x": {"field": "e", "type": "quantitative"}, "y": {"field": "z", "type": "quantitative"}, "y2": {"field": "h"}}},
          {"data": {"name": "pl"}, "transform": [{"filter": "datum.p === 'b'"}], "mark": {"type": "text", "text": "P", "font": "Liberation Sans", "fontWeight": "bold", "fontSize": 26, "color": "#e5131b", "align": "left", "baseline": "alphabetic"},
           "encoding": {"x": {"datum": 1.25, "type": "quantitative"}, "y": {"datum": 4.4, "type": "quantitative"}}},
          {"data": {"name": "pl"}, "transform": [{"filter": "datum.p === 'b'"}], "mark": {"type": "text", "font": "Liberation Sans", "fontWeight": "bold", "fontSize": 19, "color": "#e5131b", "align": "left", "baseline": "alphabetic"},
           "encoding": {"x": {"datum": 1.345, "type": "quantitative"}, "y": {"datum": 4.07, "type": "quantitative"}, "text": {"field": "n", "type": "nominal"}}}
          ]},
          {"data": {"name": "pl"}, "transform": [{"filter": "datum.p === 'b'"}], "mark": {"type": "point", "size": 0, "opacity": 0},
           "encoding": {
            "x": {"datum": 1, "type": "quantitative", "axis": {"orient": "bottom", "title": "Energy [keV]", "values": [0.2,0.4,0.6,0.8,1,1.2,1.4,1.6,1.8,2,2.2,2.4,2.6], "labelExpr": "replace(format(datum.value,'.1f'),'.',',')", "ticks": false, "tickSize": 0, "domain": false, "grid": false, "labelFontSize": 11.5, "labelPadding": 8, "titleFontSize": 12, "titlePadding": 5}},
            "y": {"datum": 1, "type": "quantitative", "axis": {"orient": "left", "title": "cps/eV", "values": [0,2,4,6,8,10,12,14], "format": "d", "ticks": false, "tickSize": 0, "domain": false, "grid": false, "labelFontSize": 11.5, "labelPadding": 9, "titleFontSize": 12, "titleX": 1, "titleY": -5.5}}
           }}
         ]},
         {"layer": [
          {"data": {"values": [{}]}, "mark": {"type": "rect", "fill": "white"},
           "encoding": {"x": {"datum": 0, "type": "quantitative", "scale": {"domain": [0,1,2,3,4,5], "range": [111,171,223,309,362,459], "zero": false, "nice": false}, "axis": null}, "x2": {"datum": 5},
            "y": {"datum": 0, "type": "quantitative", "scale": {"domain": [0,1,2,3,4,5,6], "range": [4,47,70,92,115,137,159], "zero": false, "nice": false}, "axis": null}, "y2": {"datum": 6}}},
          {"data": {"values": [{}]}, "mark": {"type": "rect", "fill": "#d9d9d9"},
           "encoding": {"x": {"datum": 0, "type": "quantitative", "axis": null}, "x2": {"datum": 5}, "y": {"datum": 0, "type": "quantitative", "axis": null}, "y2": {"datum": 1}}},
          {"data": {"values": [{}]}, "mark": {"type": "rect", "fill": "#d9d9d9"},
           "encoding": {"x": {"datum": 0, "type": "quantitative", "axis": null}, "x2": {"datum": 1}, "y": {"datum": 1, "type": "quantitative", "axis": null}, "y2": {"datum": 6}}},
          {"data": {"name": "tc"}, "mark": {"type": "rule", "color": "#c3c3c3", "strokeWidth": 1.5},
           "encoding": {"x": {"field": "k", "type": "quantitative", "axis": null}, "y": {"datum": 0, "type": "quantitative", "axis": null}, "y2": {"datum": 6}}},
          {"data": {"name": "tr"}, "mark": {"type": "rule", "color": "#c3c3c3", "strokeWidth": 1.5},
           "encoding": {"y": {"field": "k", "type": "quantitative", "axis": null}, "x": {"datum": 0, "type": "quantitative", "axis": null}, "x2": {"datum": 5}}},
          {"data": {"name": "th1"}, "mark": {"type": "text", "fontSize": 14.5, "align": "center", "baseline": "middle", "color": "#1a1a1a"},
           "encoding": {"x": {"field": "cm", "type": "quantitative", "axis": null}, "y": {"datum": 0.5, "type": "quantitative", "axis": null}, "text": {"field": "t", "type": "nominal"}}},
          {"data": {"name": "th2"}, "mark": {"type": "text", "fontSize": 14.5, "lineHeight": 21, "align": "center", "baseline": "middle", "dy": -10.5, "color": "#1a1a1a"},
           "encoding": {"x": {"field": "cm", "type": "quantitative", "axis": null}, "y": {"datum": 0.5, "type": "quantitative", "axis": null}, "text": {"field": "t", "type": "nominal"}}},
          {"data": {"name": "tz"}, "mark": {"type": "text", "fontSize": 14.5, "align": "left", "baseline": "middle", "dx": 3, "color": "#1a1a1a"},
           "encoding": {"x": {"datum": 0, "type": "quantitative", "axis": null}, "y": {"field": "r", "type": "quantitative", "axis": null}, "text": {"field": "el", "type": "nominal"}}},
          {"data": {"name": "tz"}, "mark": {"type": "text", "fontSize": 14.5, "align": "right", "baseline": "middle", "dx": -3, "color": "#1a1a1a"},
           "encoding": {"x": {"datum": 2, "type": "quantitative", "axis": null}, "y": {"field": "r", "type": "quantitative", "axis": null}, "text": {"field": "z", "type": "nominal"}}},
          {"data": {"name": "tn"}, "transform": [{"filter": "datum.p === 'b'"}], "mark": {"type": "text", "fontSize": 14.5, "align": "right", "baseline": "middle", "dx": -3, "color": "#1a1a1a"},
           "encoding": {"x": {"field": "c", "type": "quantitative", "axis": null}, "y": {"field": "r", "type": "quantitative", "axis": null}, "text": {"field": "t", "type": "nominal"}}},
          {"data": {"name": "tt"}, "mark": {"type": "text", "fontSize": 14.5, "fontWeight": "bold", "align": "right", "baseline": "middle", "dx": -2, "color": "#1a1a1a"},
           "encoding": {"x": {"field": "c", "type": "quantitative", "axis": null}, "y": {"datum": 5.5, "type": "quantitative", "axis": null}, "text": {"field": "t", "type": "nominal"}}}
         ]}
        ]},
       {"width": 514, "height": 311,
        "title": {"text": "c", "fontSize": 35, "dx": -27, "dy": 38},
        "resolve": {"scale": {"x": "independent", "y": "independent"}},
        "layer": [
         {"resolve": {"axis": {"x": "independent", "y": "independent"}},
          "layer": [
          {"layer": [
          {"data": {"name": "sp"}, "transform": [{"filter": "datum.p === 'c'"}],
           "mark": {"type": "area", "fill": "#c91b1b", "strokeWidth": 0.8, "clip": true},
           "encoding": {
            "x": {"field": "e", "type": "quantitative", "scale": {"domain": [0.186, 3.0165], "zero": false, "nice": false},
                  "axis": {"orient": "bottom", "title": null, "labels": false, "values": [0.2,0.3,0.4,0.5,0.6,0.7,0.8,0.9,1,1.1,1.2,1.3,1.4,1.5,1.6,1.7,1.8,1.9,2,2.1,2.2,2.3,2.4,2.5,2.6,2.7,2.8,2.9,3], "tickSize": 4}},
            "y": {"field": "c", "type": "quantitative", "scale": {"domain": [0, 15.24], "zero": false, "nice": false},
                  "axis": {"orient": "left", "title": null, "labels": false, "values": [0,0.5,1,1.5,2,2.5,3,3.5,4,4.5,5,5.5,6,6.5,7,7.5,8,8.5,9,9.5,10,10.5,11,11.5,12,12.5,13,13.5,14,14.5,15], "tickSize": 4}},
            "stroke": {"datum": "Map", "scale": {"range": ["#c40000"]}, "legend": {"title": null, "symbolType": "stroke", "labelFontSize": 12, "symbolSize": 196, "symbolStrokeWidth": 1.5, "padding": 2, "labelOffset": 6}}
           }},
          {"data": {"name": "el"}, "mark": {"type": "rect", "fillOpacity": 0.24, "clip": true},
           "encoding": {"x": {"field": "lo", "type": "quantitative"}, "x2": {"field": "hi"}, "y": {"datum": 0, "type": "quantitative"}, "y2": {"datum": 15.24}, "fill": {"field": "el", "type": "nominal", "scale": {"domain": ["C","N","O","S"], "range": ["#ff2222","#22e022","#2424f2","#22e6e6"]}, "legend": null}}},
          {"data": {"name": "el"}, "transform": [{"filter": "datum.el === 'C'"}], "mark": {"type": "rect", "clip": true},
           "encoding": {"x": {"field": "klo", "type": "quantitative"}, "x2": {"field": "khi"}, "y": {"datum": 14.36, "type": "quantitative"}, "y2": {"datum": 15.24}, "fill": {"field": "el", "type": "nominal", "legend": null}}},
          {"data": {"name": "el"}, "transform": [{"filter": "datum.el === 'C'"}], "mark": {"type": "text", "fontSize": 11.5, "fontWeight": "bold", "baseline": "middle", "clip": true},
           "encoding": {"x": {"field": "kc", "type": "quantitative"}, "y": {"datum": 14.8, "type": "quantitative"}, "text": {"field": "k", "type": "nominal"}, "color": {"value": "#111111"}}},
          {"data": {"name": "el"}, "transform": [{"filter": "datum.el !== 'C'"}], "mark": {"type": "rect", "clip": true},
           "encoding": {"x": {"field": "klo", "type": "quantitative"}, "x2": {"field": "khi"}, "y": {"datum": 14.36, "type": "quantitative"}, "y2": {"datum": 15.24}, "fill": {"field": "el", "type": "nominal", "legend": null}}},
          {"data": {"name": "el"}, "transform": [{"filter": "datum.el === 'N' || datum.el === 'O'"}], "mark": {"type": "text", "fontSize": 11.5, "fontWeight": "bold", "baseline": "middle", "clip": true},
           "encoding": {"x": {"field": "kc", "type": "quantitative"}, "y": {"datum": 14.8, "type": "quantitative"}, "text": {"field": "k", "type": "nominal"}, "color": {"condition": {"test": "datum.el === 'O'", "value": "white"}, "value": "#111111"}}},
          {"data": {"name": "lbl"}, "transform": [{"filter": "datum.g === 'L'"}], "mark": {"type": "rect", "clip": true},
           "encoding": {"x": {"field": "blo", "type": "quantitative"}, "x2": {"field": "bhi"}, "y": {"datum": 6.15, "type": "quantitative"}, "y2": {"datum": 7.0}, "fill": {"field": "el", "type": "nominal", "legend": null}}},
          {"data": {"name": "lbl"}, "transform": [{"filter": "datum.g === 'L'"}], "mark": {"type": "text", "fontSize": 11.5, "fontWeight": "bold", "baseline": "middle", "clip": true},
           "encoding": {"x": {"field": "ln", "type": "quantitative"}, "y": {"datum": 6.58, "type": "quantitative"}, "text": {"field": "el", "type": "nominal"}, "color": {"condition": {"test": "datum.el === 'O'", "value": "white"}, "value": "#111111"}}},
          {"data": {"name": "el"}, "mark": {"type": "rule", "strokeWidth": 1.2},
           "encoding": {"x": {"field": "ln", "type": "quantitative"}, "y": {"datum": 0, "type": "quantitative"}, "y2": {"datum": 6.15}, "color": {"field": "el", "type": "nominal", "scale": {"domain": ["C","N","O","S"], "range": ["#ffb4b4","#1fcf1f","#1f1fe0","#1fd6d6"]}, "legend": null}}},
          {"data": {"name": "sum"}, "mark": {"type": "rule", "strokeWidth": 2, "color": "#22d0e0"},
           "encoding": {"x": {"field": "e", "type": "quantitative"}, "y": {"field": "z", "type": "quantitative"}, "y2": {"field": "h"}}},
          {"data": {"name": "pl"}, "transform": [{"filter": "datum.p === 'c'"}], "mark": {"type": "text", "text": "P", "font": "Liberation Sans", "fontWeight": "bold", "fontSize": 26, "color": "#e5131b", "align": "left", "baseline": "alphabetic"},
           "encoding": {"x": {"datum": 1.38, "type": "quantitative"}, "y": {"datum": 4.41, "type": "quantitative"}}},
          {"data": {"name": "pl"}, "transform": [{"filter": "datum.p === 'c'"}], "mark": {"type": "text", "font": "Liberation Sans", "fontWeight": "bold", "fontSize": 19, "color": "#e5131b", "align": "left", "baseline": "alphabetic"},
           "encoding": {"x": {"datum": 1.489, "type": "quantitative"}, "y": {"datum": 4.07, "type": "quantitative"}, "text": {"field": "n", "type": "nominal"}}}
          ]},
          {"data": {"name": "pl"}, "transform": [{"filter": "datum.p === 'c'"}], "mark": {"type": "point", "size": 0, "opacity": 0},
           "encoding": {
            "x": {"datum": 1, "type": "quantitative", "axis": {"orient": "bottom", "title": "Energy [keV]", "values": [0.5,1,1.5,2,2.5,3], "labelExpr": "replace(format(datum.value,'.1f'),'.',',')", "labelFlush": 6, "ticks": false, "tickSize": 0, "domain": false, "grid": false, "labelFontSize": 11.5, "labelPadding": 8, "titleFontSize": 12, "titlePadding": 5}},
            "y": {"datum": 1, "type": "quantitative", "axis": {"orient": "left", "title": "cps/eV", "values": [0,2,4,6,8,10,12,14], "format": "d", "ticks": false, "tickSize": 0, "domain": false, "grid": false, "labelFontSize": 11.5, "labelPadding": 9, "titleFontSize": 12, "titleX": 3, "titleY": -3.5}}
           }}
         ]},
         {"layer": [
          {"data": {"values": [{}]}, "mark": {"type": "rect", "fill": "white"},
           "encoding": {"x": {"datum": 0, "type": "quantitative", "scale": {"domain": [0,1,2,3,4,5], "range": [94.5,155,208,296,349,447], "zero": false, "nice": false}, "axis": null}, "x2": {"datum": 5},
            "y": {"datum": 0, "type": "quantitative", "scale": {"domain": [0,1,2,3,4,5,6], "range": [1,44,67,90,112,135,158], "zero": false, "nice": false}, "axis": null}, "y2": {"datum": 6}}},
          {"data": {"values": [{}]}, "mark": {"type": "rect", "fill": "#d9d9d9"},
           "encoding": {"x": {"datum": 0, "type": "quantitative", "axis": null}, "x2": {"datum": 5}, "y": {"datum": 0, "type": "quantitative", "axis": null}, "y2": {"datum": 1}}},
          {"data": {"values": [{}]}, "mark": {"type": "rect", "fill": "#d9d9d9"},
           "encoding": {"x": {"datum": 0, "type": "quantitative", "axis": null}, "x2": {"datum": 1}, "y": {"datum": 1, "type": "quantitative", "axis": null}, "y2": {"datum": 6}}},
          {"data": {"name": "tc"}, "mark": {"type": "rule", "color": "#c3c3c3", "strokeWidth": 1.5},
           "encoding": {"x": {"field": "k", "type": "quantitative", "axis": null}, "y": {"datum": 0, "type": "quantitative", "axis": null}, "y2": {"datum": 6}}},
          {"data": {"name": "tr"}, "mark": {"type": "rule", "color": "#c3c3c3", "strokeWidth": 1.5},
           "encoding": {"y": {"field": "k", "type": "quantitative", "axis": null}, "x": {"datum": 0, "type": "quantitative", "axis": null}, "x2": {"datum": 5}}},
          {"data": {"name": "th1"}, "mark": {"type": "text", "fontSize": 14.5, "align": "center", "baseline": "middle", "color": "#1a1a1a"},
           "encoding": {"x": {"field": "cm", "type": "quantitative", "axis": null}, "y": {"datum": 0.5, "type": "quantitative", "axis": null}, "text": {"field": "t", "type": "nominal"}}},
          {"data": {"name": "th2"}, "mark": {"type": "text", "fontSize": 14.5, "lineHeight": 21, "align": "center", "baseline": "middle", "dy": -10.5, "color": "#1a1a1a"},
           "encoding": {"x": {"field": "cm", "type": "quantitative", "axis": null}, "y": {"datum": 0.5, "type": "quantitative", "axis": null}, "text": {"field": "t", "type": "nominal"}}},
          {"data": {"name": "tz"}, "mark": {"type": "text", "fontSize": 14.5, "align": "left", "baseline": "middle", "dx": 3, "color": "#1a1a1a"},
           "encoding": {"x": {"datum": 0, "type": "quantitative", "axis": null}, "y": {"field": "r", "type": "quantitative", "axis": null}, "text": {"field": "el", "type": "nominal"}}},
          {"data": {"name": "tz"}, "mark": {"type": "text", "fontSize": 14.5, "align": "right", "baseline": "middle", "dx": -3, "color": "#1a1a1a"},
           "encoding": {"x": {"datum": 2, "type": "quantitative", "axis": null}, "y": {"field": "r", "type": "quantitative", "axis": null}, "text": {"field": "z", "type": "nominal"}}},
          {"data": {"name": "tn"}, "transform": [{"filter": "datum.p === 'c'"}], "mark": {"type": "text", "fontSize": 14.5, "align": "right", "baseline": "middle", "dx": -3, "color": "#1a1a1a"},
           "encoding": {"x": {"field": "c", "type": "quantitative", "axis": null}, "y": {"field": "r", "type": "quantitative", "axis": null}, "text": {"field": "t", "type": "nominal"}}},
          {"data": {"name": "tt"}, "mark": {"type": "text", "fontSize": 14.5, "fontWeight": "bold", "align": "right", "baseline": "middle", "dx": -2, "color": "#1a1a1a"},
           "encoding": {"x": {"field": "c", "type": "quantitative", "axis": null}, "y": {"datum": 5.5, "type": "quantitative", "axis": null}, "text": {"field": "t", "type": "nominal"}}}
         ]}
        ]}
     ], "spacing": 9, "resolve": {"scale": {"stroke": "independent"}, "legend": {"stroke": "independent"}}}
   ], "spacing": 0, "resolve": {"scale": {"stroke": "independent"}, "legend": {"stroke": "independent"}}},
   {"hconcat": [
     {"width": 3, "height": 1, "view": {"stroke": null}, "data": {"values": [{}]}, "mark": {"type": "point", "size": 0, "opacity": 0}, "encoding": {}},
     {"hconcat": [
       {"width": 513, "height": 310,
        "title": {"text": "d", "fontSize": 35, "dx": -27, "dy": 22},
        "resolve": {"scale": {"x": "independent", "y": "independent"}},
        "layer": [
         {"resolve": {"axis": {"x": "independent", "y": "independent"}},
          "layer": [
          {"layer": [
          {"data": {"name": "sp"}, "transform": [{"filter": "datum.p === 'd'"}],
           "mark": {"type": "area", "fill": "#c91b1b", "strokeWidth": 0.8, "clip": true},
           "encoding": {
            "x": {"field": "e", "type": "quantitative", "scale": {"domain": [0.181, 3.167], "zero": false, "nice": false},
                  "axis": {"orient": "bottom", "title": null, "labels": false, "values": [0.2,0.3,0.4,0.5,0.6,0.7,0.8,0.9,1,1.1,1.2,1.3,1.4,1.5,1.6,1.7,1.8,1.9,2,2.1,2.2,2.3,2.4,2.5,2.6,2.7,2.8,2.9,3,3.1], "tickSize": 4}},
            "y": {"field": "c", "type": "quantitative", "scale": {"domain": [0, 17.46], "zero": false, "nice": false},
                  "axis": {"orient": "left", "title": null, "labels": false, "values": [0,0.5,1,1.5,2,2.5,3,3.5,4,4.5,5,5.5,6,6.5,7,7.5,8,8.5,9,9.5,10,10.5,11,11.5,12,12.5,13,13.5,14,14.5,15,15.5,16,16.5,17], "tickSize": 4}},
            "stroke": {"datum": "Map", "scale": {"range": ["#c40000"]}, "legend": {"title": null, "symbolType": "stroke", "labelFontSize": 12, "symbolSize": 196, "symbolStrokeWidth": 1.5, "padding": 2, "labelOffset": 6}}
           }},
          {"data": {"name": "el"}, "mark": {"type": "rect", "fillOpacity": 0.24, "clip": true},
           "encoding": {"x": {"field": "lo", "type": "quantitative"}, "x2": {"field": "hi"}, "y": {"datum": 0, "type": "quantitative"}, "y2": {"datum": 17.46}, "fill": {"field": "el", "type": "nominal", "scale": {"domain": ["C","N","O","S"], "range": ["#ff2222","#22e022","#2424f2","#22e6e6"]}, "legend": null}}},
          {"data": {"name": "el"}, "transform": [{"filter": "datum.el === 'C'"}], "mark": {"type": "rect", "clip": true},
           "encoding": {"x": {"field": "klo", "type": "quantitative"}, "x2": {"field": "khi"}, "y": {"datum": 16.43, "type": "quantitative"}, "y2": {"datum": 17.46}, "fill": {"field": "el", "type": "nominal", "legend": null}}},
          {"data": {"name": "el"}, "transform": [{"filter": "datum.el === 'C'"}], "mark": {"type": "text", "fontSize": 11.5, "fontWeight": "bold", "baseline": "middle", "clip": true},
           "encoding": {"x": {"field": "kc", "type": "quantitative"}, "y": {"datum": 16.95, "type": "quantitative"}, "text": {"field": "k", "type": "nominal"}, "color": {"value": "#111111"}}},
          {"data": {"name": "el"}, "transform": [{"filter": "datum.el !== 'C'"}], "mark": {"type": "rect", "clip": true},
           "encoding": {"x": {"field": "klo", "type": "quantitative"}, "x2": {"field": "khi"}, "y": {"datum": 16.43, "type": "quantitative"}, "y2": {"datum": 17.46}, "fill": {"field": "el", "type": "nominal", "legend": null}}},
          {"data": {"name": "el"}, "transform": [{"filter": "datum.el === 'N' || datum.el === 'O'"}], "mark": {"type": "text", "fontSize": 11.5, "fontWeight": "bold", "baseline": "middle", "clip": true},
           "encoding": {"x": {"field": "kc", "type": "quantitative"}, "y": {"datum": 16.95, "type": "quantitative"}, "text": {"field": "k", "type": "nominal"}, "color": {"condition": {"test": "datum.el === 'O'", "value": "white"}, "value": "#111111"}}},
          {"data": {"name": "lbl"}, "transform": [{"filter": "datum.g === 'L'"}], "mark": {"type": "rect", "clip": true},
           "encoding": {"x": {"field": "blo", "type": "quantitative"}, "x2": {"field": "bhi"}, "y": {"datum": 7.1, "type": "quantitative"}, "y2": {"datum": 8.1}, "fill": {"field": "el", "type": "nominal", "legend": null}}},
          {"data": {"name": "lbl"}, "transform": [{"filter": "datum.g === 'L'"}], "mark": {"type": "text", "fontSize": 11.5, "fontWeight": "bold", "baseline": "middle", "clip": true},
           "encoding": {"x": {"field": "ln", "type": "quantitative"}, "y": {"datum": 7.6, "type": "quantitative"}, "text": {"field": "el", "type": "nominal"}, "color": {"condition": {"test": "datum.el === 'O'", "value": "white"}, "value": "#111111"}}},
          {"data": {"name": "el"}, "mark": {"type": "rule", "strokeWidth": 1.2},
           "encoding": {"x": {"field": "ln", "type": "quantitative"}, "y": {"datum": 0, "type": "quantitative"}, "y2": {"datum": 7.1}, "color": {"field": "el", "type": "nominal", "scale": {"domain": ["C","N","O","S"], "range": ["#ffb4b4","#1fcf1f","#1f1fe0","#1fd6d6"]}, "legend": null}}},
          {"data": {"name": "sum"}, "mark": {"type": "rule", "strokeWidth": 2, "color": "#22d0e0"},
           "encoding": {"x": {"field": "e", "type": "quantitative"}, "y": {"field": "z", "type": "quantitative"}, "y2": {"field": "h"}}},
          {"data": {"name": "pl"}, "transform": [{"filter": "datum.p === 'd'"}], "mark": {"type": "text", "text": "P", "font": "Liberation Sans", "fontWeight": "bold", "fontSize": 26, "color": "#e5131b", "align": "left", "baseline": "alphabetic"},
           "encoding": {"x": {"datum": 1.502, "type": "quantitative"}, "y": {"datum": 6.4, "type": "quantitative"}}},
          {"data": {"name": "pl"}, "transform": [{"filter": "datum.p === 'd'"}], "mark": {"type": "text", "font": "Liberation Sans", "fontWeight": "bold", "fontSize": 19, "color": "#e5131b", "align": "left", "baseline": "alphabetic"},
           "encoding": {"x": {"datum": 1.613, "type": "quantitative"}, "y": {"datum": 6.0, "type": "quantitative"}, "text": {"field": "n", "type": "nominal"}}}
          ]},
          {"data": {"name": "pl"}, "transform": [{"filter": "datum.p === 'd'"}], "mark": {"type": "point", "size": 0, "opacity": 0},
           "encoding": {
            "x": {"datum": 1, "type": "quantitative", "axis": {"orient": "bottom", "title": "Energy [keV]", "values": [0.5,1,1.5,2,2.5,3], "labelExpr": "replace(format(datum.value,'.1f'),'.',',')", "ticks": false, "tickSize": 0, "domain": false, "grid": false, "labelFontSize": 11.5, "labelPadding": 8, "titleFontSize": 12, "titlePadding": 5}},
            "y": {"datum": 1, "type": "quantitative", "axis": {"orient": "left", "title": "cps/eV", "values": [0,2,4,6,8,10,12,14,16], "format": "d", "ticks": false, "tickSize": 0, "domain": false, "grid": false, "labelFontSize": 11.5, "labelPadding": 9, "titleFontSize": 12, "titleX": 3.5, "titleY": -6.5}}
           }}
         ]},
         {"layer": [
          {"data": {"values": [{}]}, "mark": {"type": "rect", "fill": "white"},
           "encoding": {"x": {"datum": 0, "type": "quantitative", "scale": {"domain": [0,1,2,3,4,5], "range": [111,170,220,306,358,453], "zero": false, "nice": false}, "axis": null}, "x2": {"datum": 5},
            "y": {"datum": 0, "type": "quantitative", "scale": {"domain": [0,1,2,3,4,5,6], "range": [3,46,69,91,113,135,157], "zero": false, "nice": false}, "axis": null}, "y2": {"datum": 6}}},
          {"data": {"values": [{}]}, "mark": {"type": "rect", "fill": "#d9d9d9"},
           "encoding": {"x": {"datum": 0, "type": "quantitative", "axis": null}, "x2": {"datum": 5}, "y": {"datum": 0, "type": "quantitative", "axis": null}, "y2": {"datum": 1}}},
          {"data": {"values": [{}]}, "mark": {"type": "rect", "fill": "#d9d9d9"},
           "encoding": {"x": {"datum": 0, "type": "quantitative", "axis": null}, "x2": {"datum": 1}, "y": {"datum": 1, "type": "quantitative", "axis": null}, "y2": {"datum": 6}}},
          {"data": {"name": "tc"}, "mark": {"type": "rule", "color": "#c3c3c3", "strokeWidth": 1.5},
           "encoding": {"x": {"field": "k", "type": "quantitative", "axis": null}, "y": {"datum": 0, "type": "quantitative", "axis": null}, "y2": {"datum": 6}}},
          {"data": {"name": "tr"}, "mark": {"type": "rule", "color": "#c3c3c3", "strokeWidth": 1.5},
           "encoding": {"y": {"field": "k", "type": "quantitative", "axis": null}, "x": {"datum": 0, "type": "quantitative", "axis": null}, "x2": {"datum": 5}}},
          {"data": {"name": "th1"}, "mark": {"type": "text", "fontSize": 14.5, "align": "center", "baseline": "middle", "color": "#1a1a1a"},
           "encoding": {"x": {"field": "cm", "type": "quantitative", "axis": null}, "y": {"datum": 0.5, "type": "quantitative", "axis": null}, "text": {"field": "t", "type": "nominal"}}},
          {"data": {"name": "th2"}, "mark": {"type": "text", "fontSize": 14.5, "lineHeight": 21, "align": "center", "baseline": "middle", "dy": -10.5, "color": "#1a1a1a"},
           "encoding": {"x": {"field": "cm", "type": "quantitative", "axis": null}, "y": {"datum": 0.5, "type": "quantitative", "axis": null}, "text": {"field": "t", "type": "nominal"}}},
          {"data": {"name": "tz"}, "mark": {"type": "text", "fontSize": 14.5, "align": "left", "baseline": "middle", "dx": 3, "color": "#1a1a1a"},
           "encoding": {"x": {"datum": 0, "type": "quantitative", "axis": null}, "y": {"field": "r", "type": "quantitative", "axis": null}, "text": {"field": "el", "type": "nominal"}}},
          {"data": {"name": "tz"}, "mark": {"type": "text", "fontSize": 14.5, "align": "right", "baseline": "middle", "dx": -3, "color": "#1a1a1a"},
           "encoding": {"x": {"datum": 2, "type": "quantitative", "axis": null}, "y": {"field": "r", "type": "quantitative", "axis": null}, "text": {"field": "z", "type": "nominal"}}},
          {"data": {"name": "tn"}, "transform": [{"filter": "datum.p === 'd'"}], "mark": {"type": "text", "fontSize": 14.5, "align": "right", "baseline": "middle", "dx": -3, "color": "#1a1a1a"},
           "encoding": {"x": {"field": "c", "type": "quantitative", "axis": null}, "y": {"field": "r", "type": "quantitative", "axis": null}, "text": {"field": "t", "type": "nominal"}}},
          {"data": {"name": "tt"}, "mark": {"type": "text", "fontSize": 14.5, "fontWeight": "bold", "align": "right", "baseline": "middle", "dx": -2, "color": "#1a1a1a"},
           "encoding": {"x": {"field": "c", "type": "quantitative", "axis": null}, "y": {"datum": 5.5, "type": "quantitative", "axis": null}, "text": {"field": "t", "type": "nominal"}}}
         ]}
        ]},
       {"width": 508, "height": 305,
        "title": {"text": "e", "fontSize": 35, "dx": -30, "dy": 17},
        "resolve": {"scale": {"x": "independent", "y": "independent"}},
        "layer": [
         {"resolve": {"axis": {"x": "independent", "y": "independent"}},
          "layer": [
          {"layer": [
          {"data": {"name": "sp"}, "transform": [{"filter": "datum.p === 'e'"}],
           "mark": {"type": "area", "fill": "#c91b1b", "strokeWidth": 0.8, "clip": true},
           "encoding": {
            "x": {"field": "e", "type": "quantitative", "scale": {"domain": [0.169, 3.19], "zero": false, "nice": false},
                  "axis": {"orient": "bottom", "title": null, "labels": false, "values": [0.2,0.3,0.4,0.5,0.6,0.7,0.8,0.9,1,1.1,1.2,1.3,1.4,1.5,1.6,1.7,1.8,1.9,2,2.1,2.2,2.3,2.4,2.5,2.6,2.7,2.8,2.9,3,3.1], "tickSize": 4}},
            "y": {"field": "c", "type": "quantitative", "scale": {"domain": [0, 20.3], "zero": false, "nice": false},
                  "axis": {"orient": "left", "title": null, "labels": false, "values": [0,0.5,1,1.5,2,2.5,3,3.5,4,4.5,5,5.5,6,6.5,7,7.5,8,8.5,9,9.5,10,10.5,11,11.5,12,12.5,13,13.5,14,14.5,15,15.5,16,16.5,17,17.5,18,18.5,19,19.5,20], "tickSize": 4}},
            "stroke": {"datum": "Map", "scale": {"range": ["#c40000"]}, "legend": {"title": null, "symbolType": "stroke", "labelFontSize": 12, "symbolSize": 196, "symbolStrokeWidth": 1.5, "padding": 2, "labelOffset": 6}}
           }},
          {"data": {"name": "el"}, "mark": {"type": "rect", "fillOpacity": 0.24, "clip": true},
           "encoding": {"x": {"field": "lo", "type": "quantitative"}, "x2": {"field": "hi"}, "y": {"datum": 0, "type": "quantitative"}, "y2": {"datum": 20.3}, "fill": {"field": "el", "type": "nominal", "scale": {"domain": ["C","N","O","S"], "range": ["#ff2222","#22e022","#2424f2","#22e6e6"]}, "legend": null}}},
          {"data": {"name": "el"}, "transform": [{"filter": "datum.el === 'C'"}], "mark": {"type": "rect", "clip": true},
           "encoding": {"x": {"field": "klo", "type": "quantitative"}, "x2": {"field": "khi"}, "y": {"datum": 19.05, "type": "quantitative"}, "y2": {"datum": 20.3}, "fill": {"field": "el", "type": "nominal", "legend": null}}},
          {"data": {"name": "el"}, "transform": [{"filter": "datum.el === 'C'"}], "mark": {"type": "text", "fontSize": 11.5, "fontWeight": "bold", "baseline": "middle", "clip": true},
           "encoding": {"x": {"field": "kc", "type": "quantitative"}, "y": {"datum": 19.68, "type": "quantitative"}, "text": {"field": "k", "type": "nominal"}, "color": {"value": "#111111"}}},
          {"data": {"name": "el"}, "transform": [{"filter": "datum.el !== 'C'"}], "mark": {"type": "rect", "clip": true},
           "encoding": {"x": {"field": "klo", "type": "quantitative"}, "x2": {"field": "khi"}, "y": {"datum": 19.05, "type": "quantitative"}, "y2": {"datum": 20.3}, "fill": {"field": "el", "type": "nominal", "legend": null}}},
          {"data": {"name": "el"}, "transform": [{"filter": "datum.el === 'N' || datum.el === 'O'"}], "mark": {"type": "text", "fontSize": 11.5, "fontWeight": "bold", "baseline": "middle", "clip": true},
           "encoding": {"x": {"field": "kc", "type": "quantitative"}, "y": {"datum": 19.68, "type": "quantitative"}, "text": {"field": "k", "type": "nominal"}, "color": {"condition": {"test": "datum.el === 'O'", "value": "white"}, "value": "#111111"}}},
          {"data": {"name": "lbl"}, "transform": [{"filter": "datum.g === 'L'"}], "mark": {"type": "rect", "clip": true},
           "encoding": {"x": {"field": "blo", "type": "quantitative"}, "x2": {"field": "bhi"}, "y": {"datum": 8.2, "type": "quantitative"}, "y2": {"datum": 9.4}, "fill": {"field": "el", "type": "nominal", "legend": null}}},
          {"data": {"name": "lbl"}, "transform": [{"filter": "datum.g === 'L'"}], "mark": {"type": "text", "fontSize": 11.5, "fontWeight": "bold", "baseline": "middle", "clip": true},
           "encoding": {"x": {"field": "ln", "type": "quantitative"}, "y": {"datum": 8.8, "type": "quantitative"}, "text": {"field": "el", "type": "nominal"}, "color": {"condition": {"test": "datum.el === 'O'", "value": "white"}, "value": "#111111"}}},
          {"data": {"name": "el"}, "mark": {"type": "rule", "strokeWidth": 1.2},
           "encoding": {"x": {"field": "ln", "type": "quantitative"}, "y": {"datum": 0, "type": "quantitative"}, "y2": {"datum": 8.2}, "color": {"field": "el", "type": "nominal", "scale": {"domain": ["C","N","O","S"], "range": ["#ffb4b4","#1fcf1f","#1f1fe0","#1fd6d6"]}, "legend": null}}},
          {"data": {"name": "sum"}, "mark": {"type": "rule", "strokeWidth": 2, "color": "#22d0e0"},
           "encoding": {"x": {"field": "e", "type": "quantitative"}, "y": {"field": "z", "type": "quantitative"}, "y2": {"field": "h"}}},
          {"data": {"name": "pl"}, "transform": [{"filter": "datum.p === 'e'"}], "mark": {"type": "text", "text": "P", "font": "Liberation Sans", "fontWeight": "bold", "fontSize": 26, "color": "#e5131b", "align": "left", "baseline": "alphabetic"},
           "encoding": {"x": {"datum": 1.448, "type": "quantitative"}, "y": {"datum": 6.96, "type": "quantitative"}}},
          {"data": {"name": "pl"}, "transform": [{"filter": "datum.p === 'e'"}], "mark": {"type": "text", "font": "Liberation Sans", "fontWeight": "bold", "fontSize": 19, "color": "#e5131b", "align": "left", "baseline": "alphabetic"},
           "encoding": {"x": {"datum": 1.56, "type": "quantitative"}, "y": {"datum": 6.5, "type": "quantitative"}, "text": {"field": "n", "type": "nominal"}}}
          ]},
          {"data": {"name": "pl"}, "transform": [{"filter": "datum.p === 'e'"}], "mark": {"type": "point", "size": 0, "opacity": 0},
           "encoding": {
            "x": {"datum": 1, "type": "quantitative", "axis": {"orient": "bottom", "title": "Energy [keV]", "values": [0.5,1,1.5,2,2.5,3], "labelExpr": "replace(format(datum.value,'.1f'),'.',',')", "ticks": false, "tickSize": 0, "domain": false, "grid": false, "labelFontSize": 11.5, "labelPadding": 8, "titleFontSize": 12, "titlePadding": 5}},
            "y": {"datum": 1, "type": "quantitative", "axis": {"orient": "left", "title": "cps/eV", "values": [0,2,4,6,8,10,12,14,16,18,20], "format": "d", "ticks": false, "tickSize": 0, "domain": false, "grid": false, "labelFontSize": 11.5, "labelPadding": 9, "titleFontSize": 12, "titleX": 5, "titleY": -4.5}}
           }}
         ]},
         {"layer": [
          {"data": {"values": [{}]}, "mark": {"type": "rect", "fill": "white"},
           "encoding": {"x": {"datum": 0, "type": "quantitative", "scale": {"domain": [0,1,2,3,4,5], "range": [92,152.5,205,292,345,442], "zero": false, "nice": false}, "axis": null}, "x2": {"datum": 5},
            "y": {"datum": 0, "type": "quantitative", "scale": {"domain": [0,1,2,3,4,5,6], "range": [3,46,68,91,113,136,158], "zero": false, "nice": false}, "axis": null}, "y2": {"datum": 6}}},
          {"data": {"values": [{}]}, "mark": {"type": "rect", "fill": "#d9d9d9"},
           "encoding": {"x": {"datum": 0, "type": "quantitative", "axis": null}, "x2": {"datum": 5}, "y": {"datum": 0, "type": "quantitative", "axis": null}, "y2": {"datum": 1}}},
          {"data": {"values": [{}]}, "mark": {"type": "rect", "fill": "#d9d9d9"},
           "encoding": {"x": {"datum": 0, "type": "quantitative", "axis": null}, "x2": {"datum": 1}, "y": {"datum": 1, "type": "quantitative", "axis": null}, "y2": {"datum": 6}}},
          {"data": {"name": "tc"}, "mark": {"type": "rule", "color": "#c3c3c3", "strokeWidth": 1.5},
           "encoding": {"x": {"field": "k", "type": "quantitative", "axis": null}, "y": {"datum": 0, "type": "quantitative", "axis": null}, "y2": {"datum": 6}}},
          {"data": {"name": "tr"}, "mark": {"type": "rule", "color": "#c3c3c3", "strokeWidth": 1.5},
           "encoding": {"y": {"field": "k", "type": "quantitative", "axis": null}, "x": {"datum": 0, "type": "quantitative", "axis": null}, "x2": {"datum": 5}}},
          {"data": {"name": "th1"}, "mark": {"type": "text", "fontSize": 14.5, "align": "center", "baseline": "middle", "color": "#1a1a1a"},
           "encoding": {"x": {"field": "cm", "type": "quantitative", "axis": null}, "y": {"datum": 0.5, "type": "quantitative", "axis": null}, "text": {"field": "t", "type": "nominal"}}},
          {"data": {"name": "th2"}, "mark": {"type": "text", "fontSize": 14.5, "lineHeight": 21, "align": "center", "baseline": "middle", "dy": -10.5, "color": "#1a1a1a"},
           "encoding": {"x": {"field": "cm", "type": "quantitative", "axis": null}, "y": {"datum": 0.5, "type": "quantitative", "axis": null}, "text": {"field": "t", "type": "nominal"}}},
          {"data": {"name": "tz"}, "mark": {"type": "text", "fontSize": 14.5, "align": "left", "baseline": "middle", "dx": 3, "color": "#1a1a1a"},
           "encoding": {"x": {"datum": 0, "type": "quantitative", "axis": null}, "y": {"field": "r", "type": "quantitative", "axis": null}, "text": {"field": "el", "type": "nominal"}}},
          {"data": {"name": "tz"}, "mark": {"type": "text", "fontSize": 14.5, "align": "right", "baseline": "middle", "dx": -3, "color": "#1a1a1a"},
           "encoding": {"x": {"datum": 2, "type": "quantitative", "axis": null}, "y": {"field": "r", "type": "quantitative", "axis": null}, "text": {"field": "z", "type": "nominal"}}},
          {"data": {"name": "tn"}, "transform": [{"filter": "datum.p === 'e'"}], "mark": {"type": "text", "fontSize": 14.5, "align": "right", "baseline": "middle", "dx": -3, "color": "#1a1a1a"},
           "encoding": {"x": {"field": "c", "type": "quantitative", "axis": null}, "y": {"field": "r", "type": "quantitative", "axis": null}, "text": {"field": "t", "type": "nominal"}}},
          {"data": {"name": "tt"}, "mark": {"type": "text", "fontSize": 14.5, "fontWeight": "bold", "align": "right", "baseline": "middle", "dx": -2, "color": "#1a1a1a"},
           "encoding": {"x": {"field": "c", "type": "quantitative", "axis": null}, "y": {"datum": 5.5, "type": "quantitative", "axis": null}, "text": {"field": "t", "type": "nominal"}}}
         ]}
        ]}
     ], "spacing": 17, "resolve": {"scale": {"stroke": "independent"}, "legend": {"stroke": "independent"}}}
   ], "spacing": 0, "resolve": {"scale": {"stroke": "independent"}, "legend": {"stroke": "independent"}}}
 ], "spacing": -10, "resolve": {"scale": {"stroke": "independent"}, "legend": {"stroke": "independent"}}}
]
}
